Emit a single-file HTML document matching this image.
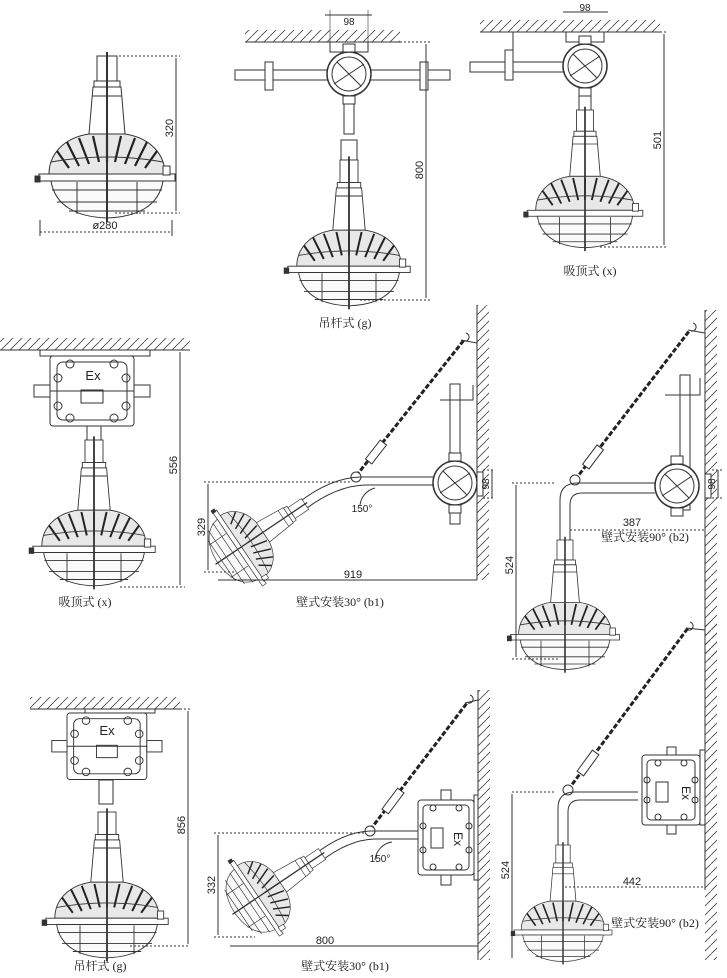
<!DOCTYPE html>
<html><head><meta charset="utf-8"><style>
html,body{margin:0;padding:0;background:#fff}
svg{display:block}
text{font-family:"Liberation Sans","Noto Sans CJK SC",sans-serif;fill:#222}
.cj{font-family:"Liberation Serif","Noto Serif CJK SC",serif;font-size:12px}
</style></head><body>
<svg width="727" height="978" viewBox="0 0 727 978" xmlns="http://www.w3.org/2000/svg" fill="none" stroke="#333" stroke-width="1">
<defs>
<pattern id="hh" width="9" height="9" patternUnits="userSpaceOnUse"><path d="M0,9 L9,0" stroke="#444" stroke-width="0.8"/></pattern>
<g id="lamp">
 <rect x="-10" y="0" width="20" height="25" fill="#fff"/>
 <rect x="-13" y="25" width="26" height="6" fill="#fff"/>
 <path d="M-14,31 L14,31 L18,78 L-18,78Z" fill="#fff"/>
 <line x1="-15" y1="40" x2="15" y2="40"/>
 <path d="M-18,78 C-45,82 -58,100 -58,118 L58,118 C58,100 45,82 18,78Z" fill="#e8e8e8"/>
 <path d="M-50,95 L-38,112 M-40,86 L-28,110 M-28,82 L-18,108 M-14,80 L-8,106 M0,80 L0,106 M14,80 L8,106 M28,82 L18,108 M40,86 L28,110 M50,95 L38,112" stroke="#222" stroke-width="2.2"/>
 <path d="M-56,106 Q0,96 56,106" />
 <rect x="-68" y="118" width="136" height="7" fill="#fff"/>
 <rect x="-72" y="120" width="5" height="6" fill="#333"/>
 <rect x="56" y="110" width="7" height="9" fill="#fff"/>
 <path d="M-56,125 C-52,150 -30,161 0,162 C30,161 52,150 56,125Z" fill="#fafafa"/>
 <path d="M-55,134 L55,134 M-50,146 L50,146 M-38,155 L38,155 M-30,126 L-30,158 M30,126 L30,158"/>
 <line x1="0" y1="-4" x2="0" y2="166" stroke-width="2"/>
</g>
<g id="exbox">
 <rect x="0" y="0" width="84" height="70" rx="3" fill="#fff"/>
 <rect x="7" y="6" width="70" height="58" rx="6"/>
 <circle cx="20" cy="8" r="4"/><circle cx="64" cy="8" r="4"/><circle cx="20" cy="62" r="4"/><circle cx="64" cy="62" r="4"/>
 <circle cx="8" cy="22" r="4"/><circle cx="76" cy="22" r="4"/><circle cx="8" cy="50" r="4"/><circle cx="76" cy="50" r="4"/>
 <rect x="31" y="34" width="22" height="13"/>
 <line x1="-14" y1="35" x2="98" y2="35"/>
 <rect x="-16" y="29" width="16" height="12" fill="#fff"/><rect x="84" y="29" width="16" height="12" fill="#fff"/>
</g>
<g id="rbox">
 <circle r="22" fill="#fff" stroke-width="1.5"/><circle r="17"/>
 <line x1="-15" y1="10" x2="15" y2="-10"/><line x1="-12" y1="-12" x2="12" y2="12"/>
 <rect x="-6" y="-30" width="12" height="8" fill="#fff"/><rect x="-6" y="22" width="12" height="8" fill="#fff"/>
</g>
</defs>

<!-- Lamp 1 top-left -->
<use href="#lamp" transform="translate(107,56)"/>
<line x1="115" y1="56" x2="180" y2="56" stroke-dasharray="2,2"/>
<line x1="115" y1="213" x2="180" y2="213" stroke-dasharray="2,2"/>
<line x1="176" y1="58" x2="176" y2="211"/>
<text x="176" y="128" font-size="11" transform="rotate(-90 176 128)" text-anchor="middle" stroke="none" dy="-3">320</text>
<line x1="40" y1="232" x2="172" y2="232" stroke-dasharray="2,2"/>
<line x1="40" y1="220" x2="40" y2="236"/><line x1="172" y1="220" x2="172" y2="236"/>
<text x="105" y="229" font-size="11" text-anchor="middle" stroke="none">ø280</text>

<!-- Top middle -->
<rect x="245" y="30" width="155" height="12" fill="url(#hh)" stroke="none"/>
<line x1="245" y1="42" x2="400" y2="42"/>
<rect x="330" y="42" width="38" height="10" fill="#fff"/>
<line x1="325" y1="15" x2="372" y2="15"/><line x1="330" y1="10" x2="330" y2="42" stroke-width="0.6"/><line x1="368" y1="10" x2="368" y2="42" stroke-width="0.6"/>
<text x="349" y="25" font-size="10" text-anchor="middle" stroke="none">98</text>
<rect x="235" y="70" width="215" height="10" fill="#fff"/>
<rect x="265" y="62" width="8" height="28" fill="#fff"/><rect x="420" y="62" width="8" height="28" fill="#fff"/>
<use href="#rbox" transform="translate(349,74)"/>
<rect x="344" y="104" width="10" height="30" fill="#fff"/>
<rect x="341" y="140" width="16" height="20" fill="#fff"/>
<use href="#lamp" transform="translate(349,160) scale(0.9)"/>
<line x1="368" y1="42" x2="430" y2="42" stroke-dasharray="2,2"/>
<line x1="360" y1="300" x2="430" y2="300" stroke-dasharray="2,2"/>
<line x1="426" y1="44" x2="426" y2="298"/>
<text x="426" y="170" font-size="11" transform="rotate(-90 426 170)" text-anchor="middle" stroke="none" dy="-3">800</text>
<text x="345" y="327" class="cj" text-anchor="middle" stroke="none">吊杆式 (g)</text>

<!-- Top right -->
<rect x="480" y="20" width="180" height="12" fill="url(#hh)" stroke="none"/>
<line x1="480" y1="32" x2="660" y2="32"/>
<rect x="566" y="32" width="38" height="10" fill="#fff"/>
<line x1="563" y1="12" x2="608" y2="12"/>
<text x="585" y="11" font-size="10" text-anchor="middle" stroke="none">98</text>
<rect x="470" y="62" width="95" height="10" fill="#fff"/>
<rect x="505" y="50" width="8" height="30" fill="#fff"/>
<path d="M513,32 L513,80"/>
<use href="#rbox" transform="translate(585,66)"/>
<rect x="579" y="96" width="12" height="16" fill="#fff"/>
<use href="#lamp" transform="translate(585,110) scale(0.85)"/>
<line x1="608" y1="32" x2="668" y2="32" stroke-dasharray="2,2"/>
<line x1="600" y1="247" x2="668" y2="247" stroke-dasharray="2,2"/>
<line x1="664" y1="34" x2="664" y2="245"/>
<text x="664" y="140" font-size="11" transform="rotate(-90 664 140)" text-anchor="middle" stroke="none" dy="-3">501</text>
<text x="590" y="275" class="cj" text-anchor="middle" stroke="none">吸顶式 (x)</text>

<!-- Middle left -->
<rect x="0" y="338" width="190" height="12" fill="url(#hh)" stroke="none"/>
<line x1="0" y1="350" x2="190" y2="350"/>
<rect x="40" y="350" width="110" height="6" fill="#fff"/>
<use href="#exbox" transform="translate(50,356)"/>
<text x="93" y="380" font-size="13" text-anchor="middle" stroke="none">Ex</text>
<rect x="87" y="426" width="14" height="20" fill="#fff"/>
<use href="#lamp" transform="translate(94,440) scale(0.9)"/>
<line x1="150" y1="350" x2="185" y2="350" stroke-dasharray="2,2"/>
<line x1="120" y1="587" x2="185" y2="587" stroke-dasharray="2,2"/>
<line x1="180" y1="352" x2="180" y2="585"/>
<text x="180" y="465" font-size="11" transform="rotate(-90 180 465)" text-anchor="middle" stroke="none" dy="-3">556</text>
<text x="85" y="606" class="cj" text-anchor="middle" stroke="none">吸顶式 (x)</text>

<!-- Middle center b1 -->
<rect x="477" y="305" width="12" height="275" fill="url(#hh)" stroke="none"/>
<line x1="477" y1="305" x2="477" y2="580"/>
<rect x="450" y="384" width="10" height="140" fill="#fff"/>
<path d="M440,400 L473,400 L473,385"/>
<path d="M356,476 L464,340" stroke="#222" stroke-width="3" stroke-dasharray="5,2"/>
<path d="M461,340 L477,343"/>
<path d="M466,333 a4,4 0 1,1 -2,8"/>
<rect x="372" y="440" width="8" height="24" transform="rotate(38 376 452)" fill="#fff"/>
<circle cx="356" cy="477" r="5" fill="#fff"/>
<path d="M298,503 Q330,478 360,477 L433,477 M303,511 Q335,486 365,485 L433,485"/>
<use href="#rbox" transform="translate(455,483)"/>
<rect x="477" y="472" width="6" height="24" fill="#fff"/>
<use href="#lamp" transform="translate(305,504) rotate(56) scale(0.65)"/>
<path d="M360,505 A20,20 0 0,1 375,488" />
<text x="362" y="512" font-size="10" text-anchor="middle" stroke="none">150°</text>
<line x1="204" y1="482" x2="352" y2="482" stroke-dasharray="2,2"/>
<line x1="208" y1="484" x2="208" y2="570"/>
<line x1="204" y1="572" x2="235" y2="572" stroke-dasharray="2,2"/>
<text x="208" y="527" font-size="11" transform="rotate(-90 208 527)" text-anchor="middle" stroke="none" dy="-3">329</text>
<line x1="218" y1="580" x2="477" y2="580"/>
<text x="353" y="578" font-size="11" text-anchor="middle" stroke="none">919</text>
<line x1="483" y1="470" x2="495" y2="470" stroke-dasharray="2,2"/><line x1="483" y1="498" x2="495" y2="498" stroke-dasharray="2,2"/>
<line x1="492" y1="470" x2="492" y2="498"/>
<text x="492" y="484" font-size="10" transform="rotate(-90 492 484)" text-anchor="middle" stroke="none" dy="-3">98</text>
<text x="340" y="606" class="cj" text-anchor="middle" stroke="none">壁式安装30°  (b1)</text>

<!-- Middle right b2 -->
<rect x="705" y="310" width="12" height="350" fill="url(#hh)" stroke="none"/>
<line x1="705" y1="310" x2="705" y2="660"/>
<rect x="680" y="375" width="10" height="135" fill="#fff"/>
<path d="M665,395 L700,395 L700,378"/>
<path d="M575,480 L690,330" stroke="#222" stroke-width="3" stroke-dasharray="5,2"/>
<path d="M688,330 L705,333"/>
<path d="M693,323 a4,4 0 1,1 -2,8"/>
<rect x="589" y="445" width="8" height="24" transform="rotate(37 593 457)" fill="#fff"/>
<circle cx="575" cy="480" r="5" fill="#fff"/>
<path d="M560,540 L560,500 Q560,483 578,483 L655,483 M570,540 L570,505 Q570,493 582,493 L655,493"/>
<use href="#rbox" transform="translate(677,486)"/>
<rect x="705" y="474" width="6" height="24" fill="#fff"/>
<use href="#lamp" transform="translate(565,540) scale(0.8)"/>
<line x1="512" y1="483" x2="555" y2="483" stroke-dasharray="2,2"/>
<line x1="516" y1="485" x2="516" y2="657"/>
<line x1="512" y1="659" x2="560" y2="659" stroke-dasharray="2,2"/>
<text x="516" y="565" font-size="11" transform="rotate(-90 516 565)" text-anchor="middle" stroke="none" dy="-3">524</text>
<line x1="570" y1="530" x2="705" y2="530" stroke-dasharray="2,2"/>
<text x="632" y="526" font-size="11" text-anchor="middle" stroke="none">387</text>
<line x1="712" y1="470" x2="722" y2="470" stroke-dasharray="2,2"/><line x1="712" y1="498" x2="722" y2="498" stroke-dasharray="2,2"/>
<line x1="718" y1="470" x2="718" y2="498"/>
<text x="718" y="484" font-size="10" transform="rotate(-90 718 484)" text-anchor="middle" stroke="none" dy="-3">98</text>
<text x="645" y="541" class="cj" text-anchor="middle" stroke="none">壁式安装90°  (b2)</text>

<!-- Bottom left -->
<rect x="30" y="697" width="150" height="12" fill="url(#hh)" stroke="none"/>
<line x1="30" y1="709" x2="180" y2="709"/>
<rect x="85" y="709" width="70" height="4" fill="#fff"/>
<use href="#exbox" transform="translate(67,713) scale(0.95,0.95)"/>
<text x="107" y="735" font-size="13" text-anchor="middle" stroke="none">Ex</text>
<rect x="99" y="780" width="14" height="24" fill="#fff"/>
<use href="#lamp" transform="translate(107,812) scale(0.9)"/>
<line x1="160" y1="709" x2="190" y2="709" stroke-dasharray="2,2"/>
<line x1="130" y1="946" x2="190" y2="946" stroke-dasharray="2,2"/>
<line x1="188" y1="711" x2="188" y2="944"/>
<text x="188" y="825" font-size="11" transform="rotate(-90 188 825)" text-anchor="middle" stroke="none" dy="-3">856</text>
<text x="100" y="970" class="cj" text-anchor="middle" stroke="none">吊杆式 (g)</text>

<!-- Bottom center b1 -->
<rect x="478" y="690" width="12" height="270" fill="url(#hh)" stroke="none"/>
<line x1="478" y1="690" x2="478" y2="960"/>
<path d="M370,830 L467,703" stroke="#222" stroke-width="3" stroke-dasharray="5,2"/>
<path d="M465,703 L478,700"/>
<path d="M470,695 a4,4 0 1,1 -2,8"/>
<rect x="389" y="788" width="8" height="26" transform="rotate(37 393 801)" fill="#fff"/>
<circle cx="370" cy="831" r="5" fill="#fff"/>
<path d="M314,855 Q343,832 370,831 L418,831 M320,862 Q348,840 374,839 L418,839"/>
<g transform="translate(418,800)">
 <rect x="0" y="0" width="56" height="75" rx="3" fill="#fff"/>
 <rect x="5" y="5" width="46" height="65" rx="4"/>
 <circle cx="15" cy="8" r="3"/><circle cx="41" cy="8" r="3"/><circle cx="15" cy="67" r="3"/><circle cx="41" cy="67" r="3"/>
 <circle cx="5" cy="26" r="3"/><circle cx="51" cy="26" r="3"/><circle cx="5" cy="50" r="3"/><circle cx="51" cy="50" r="3"/>
 <rect x="13" y="28" width="12" height="20"/>
 <rect x="23" y="-10" width="10" height="10" fill="#fff"/><rect x="23" y="75" width="10" height="10" fill="#fff"/>
</g>
<text x="454" y="839" font-size="12" transform="rotate(90 454 839)" stroke="none" text-anchor="middle">Ex</text>
<rect x="474" y="795" width="4" height="85" fill="#fff"/>
<use href="#lamp" transform="translate(322,854) rotate(56) scale(0.65)"/>
<path d="M375,860 A20,20 0 0,1 392,842"/>
<text x="380" y="862" font-size="10" text-anchor="middle" stroke="none">150°</text>
<line x1="214" y1="833" x2="365" y2="833" stroke-dasharray="2,2"/>
<line x1="218" y1="835" x2="218" y2="935"/>
<line x1="214" y1="937" x2="255" y2="937" stroke-dasharray="2,2"/>
<text x="218" y="885" font-size="11" transform="rotate(-90 218 885)" text-anchor="middle" stroke="none" dy="-3" >332</text>
<line x1="230" y1="946" x2="478" y2="946"/>
<text x="325" y="944" font-size="11" text-anchor="middle" stroke="none">800</text>
<text x="345" y="970" class="cj" text-anchor="middle" stroke="none">壁式安装30°  (b1)</text>

<!-- Bottom right b2 -->
<rect x="705" y="620" width="12" height="340" fill="url(#hh)" stroke="none"/>
<line x1="705" y1="620" x2="705" y2="890"/>
<path d="M568,790 L688,628" stroke="#222" stroke-width="3" stroke-dasharray="5,2"/>
<path d="M686,628 L705,630"/>
<path d="M690,622 a4,4 0 1,1 -2,8"/>
<rect x="584" y="750" width="8" height="26" transform="rotate(36 588 763)" fill="#fff"/>
<circle cx="568" cy="790" r="5" fill="#fff"/>
<path d="M558,845 L558,808 Q558,792 575,792 L638,792 M568,845 L568,812 Q568,800 580,800 L638,800"/>
<g transform="translate(642,755)">
 <rect x="0" y="0" width="58" height="70" rx="3" fill="#fff"/>
 <rect x="5" y="5" width="48" height="60" rx="4"/>
 <circle cx="16" cy="8" r="3"/><circle cx="42" cy="8" r="3"/><circle cx="16" cy="62" r="3"/><circle cx="42" cy="62" r="3"/>
 <circle cx="5" cy="25" r="3"/><circle cx="53" cy="25" r="3"/><circle cx="5" cy="45" r="3"/><circle cx="53" cy="45" r="3"/>
 <rect x="14" y="27" width="12" height="20"/>
 <rect x="25" y="-8" width="9" height="8" fill="#fff"/><rect x="25" y="70" width="9" height="9" fill="#fff"/>
</g>
<text x="682" y="793" font-size="12" transform="rotate(90 682 793)" stroke="none" text-anchor="middle">Ex</text>
<rect x="700" y="750" width="5" height="75" fill="#fff"/>
<use href="#lamp" transform="translate(563,845) scale(0.72)"/>
<line x1="512" y1="792" x2="555" y2="792" stroke-dasharray="2,2"/>
<line x1="512" y1="794" x2="512" y2="958"/>
<text x="512" y="870" font-size="11" transform="rotate(-90 512 870)" text-anchor="middle" stroke="none" dy="-3">524</text>
<line x1="565" y1="887" x2="705" y2="887" stroke-dasharray="2,2"/>
<text x="632" y="885" font-size="11" text-anchor="middle" stroke="none">442</text>
<text x="655" y="927" class="cj" text-anchor="middle" stroke="none">壁式安装90°  (b2)</text>
</svg>
</body></html>
